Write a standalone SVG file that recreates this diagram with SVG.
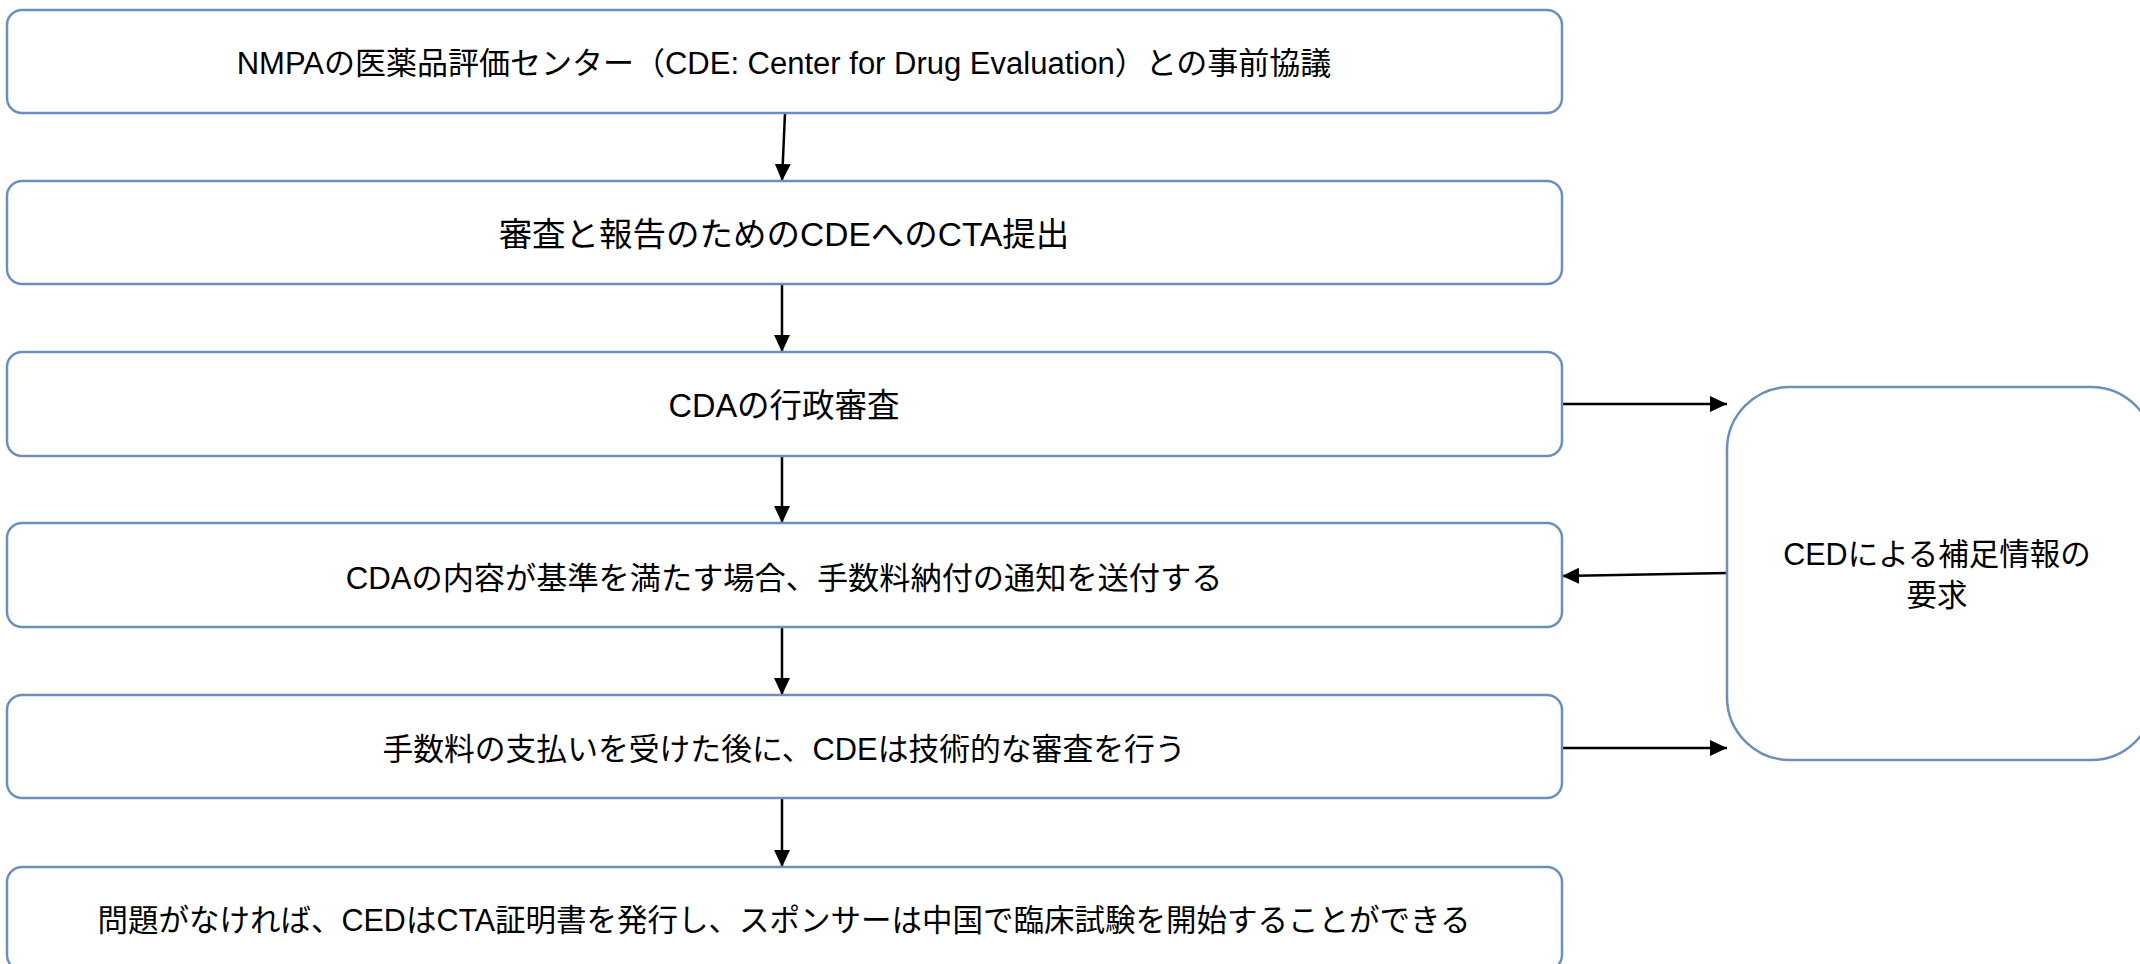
<svg xmlns="http://www.w3.org/2000/svg" width="2140" height="964" viewBox="0 0 2140 964">
<style>
.box{fill:#ffffff;stroke:#6c8ebf;stroke-width:2.5}
.t{font-family:"Liberation Sans","Noto Sans CJK JP",sans-serif;font-size:30px;fill:#000000;text-anchor:middle}
.c{fill:none;stroke:#000000;stroke-width:2.5}
</style>
<defs>
<marker id="ah" markerUnits="userSpaceOnUse" markerWidth="18" markerHeight="18" viewBox="0 0 18 16" refX="17" refY="8" orient="auto">
<path d="M0,0 L17,8 L0,16 Z" fill="#000000"/>
</marker>
</defs>
<rect width="2140" height="964" fill="#ffffff"/>
<g id="connectors">
<path class="c" d="M785,113 L782,181" marker-end="url(#ah)"/>
<path class="c" d="M782,284 L782,352" marker-end="url(#ah)"/>
<path class="c" d="M782,456 L782,523" marker-end="url(#ah)"/>
<path class="c" d="M782,627 L782,695" marker-end="url(#ah)"/>
<path class="c" d="M782,798 L782,867" marker-end="url(#ah)"/>
<path class="c" d="M1562,404 L1727,404" marker-end="url(#ah)"/>
<path class="c" d="M1727,573 L1562,576" marker-end="url(#ah)"/>
<path class="c" d="M1562,748 L1727,748" marker-end="url(#ah)"/>
</g>
<g id="n1">
<rect class="box" x="7" y="10" width="1555" height="103" rx="15"/>
<text class="t" x="784" y="74" style="font-size:31px">NMPAの医薬品評価センター（CDE: Center for Drug Evaluation）との事前協議</text>
</g>
<g id="n2">
<rect class="box" x="7" y="181" width="1555" height="103" rx="15"/>
<text class="t" x="784" y="246" style="font-size:33.5px">審査と報告のためのCDEへのCTA提出</text>
</g>
<g id="n3">
<rect class="box" x="7" y="352" width="1555" height="104" rx="15"/>
<text class="t" x="784" y="417" style="font-size:32.5px">CDAの行政審査</text>
</g>
<g id="n4">
<rect class="box" x="7" y="523" width="1555" height="104" rx="15"/>
<text class="t" x="784" y="589" style="font-size:31.2px">CDAの内容が基準を満たす場合、手数料納付の通知を送付する</text>
</g>
<g id="n5">
<rect class="box" x="7" y="695" width="1555" height="103" rx="15"/>
<text class="t" x="784" y="760" style="font-size:30.8px">手数料の支払いを受けた後に、CDEは技術的な審査を行う</text>
</g>
<g id="n6">
<rect class="box" x="7" y="867" width="1555" height="103" rx="15"/>
<text class="t" x="784" y="931" style="font-size:30.5px">問題がなければ、CEDはCTA証明書を発行し、スポンサーは中国で臨床試験を開始することができる</text>
</g>
<g id="n7">
<rect class="box" x="1727" y="387" width="427" height="373" rx="63"/>
<text class="t" x="1937" y="565" style="font-size:30.5px">CEDによる補足情報の</text>
<text class="t" x="1937" y="606" style="font-size:30.5px">要求</text>
</g>
</svg>
